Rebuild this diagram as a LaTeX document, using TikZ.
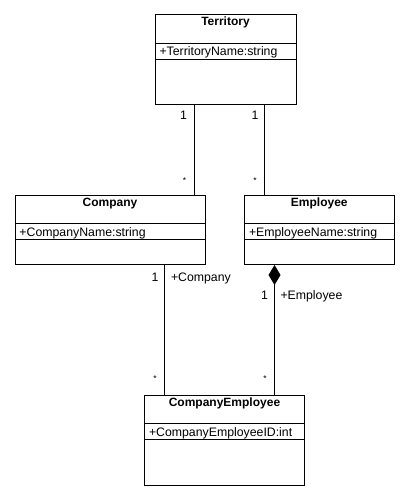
\documentclass[tikz,border=0pt]{standalone}
\usepackage{fontspec}
\setmainfont{Liberation Sans}
\usetikzlibrary{arrows.meta,calc}
\begin{document}
\begin{tikzpicture}[x=1pt,y=-1pt, line width=1pt,
 cls/.style={draw, rectangle, anchor=north west, inner sep=0pt, line width=1pt},
 ttl/.style={anchor=base, inner sep=0pt, font=\fontsize{12}{14}\selectfont\bfseries},
 attr/.style={anchor=base west, inner sep=0pt, font=\fontsize{12.3}{14}\selectfont},
 lbl/.style={anchor=base, inner sep=0pt, font=\fontsize{12.3}{14}\selectfont},
 rolel/.style={anchor=base west, inner sep=0pt, font=\fontsize{12.3}{14}\selectfont},
 mult/.style={anchor=base, inner sep=0pt, font=\fontsize{8.5}{9}\selectfont},
 conn/.style={line width=1pt},
 comp/.style={line width=1pt, {Diamond[length=20pt,width=12pt]}-}]
\useasboundingbox (0,0) rectangle (412,500);

% classes
\node[cls, minimum width=141pt, minimum height=89.5pt] (terr) at (154.5,14.5) {};
\node[cls, minimum width=190pt, minimum height=69.5pt] (comp) at (14.5,194.5) {};
\node[cls, minimum width=149.5pt, minimum height=69.5pt] (emp) at (244,194.5) {};
\node[cls, minimum width=160pt, minimum height=90pt] (ce) at (144,394.5) {};

\foreach \b in {terr,comp,emp,ce}{
  \draw ($(\b.north west)+(0,29)$) -- ($(\b.north east)+(0,29)$);
  \draw ($(\b.north west)+(0,45)$) -- ($(\b.north east)+(0,45)$);
}

\node[ttl] (terrT) at ($(terr.north)+(0,11.5)$) {Territory};
\node[ttl] (compT) at ($(comp.north)+(0,11.5)$) {Company};
\node[ttl] (empT) at ($(emp.north)+(0,11.5)$) {Employee};
\node[ttl] (ceT) at ($(ce.north)+(0,11.5)$) {CompanyEmployee};

\node[attr] (terrA) at ($(terr.north west)+(4.5,41.5)$) {+TerritoryName:string};
\node[attr] (compA) at ($(comp.north west)+(4.5,41.5)$) {+CompanyName:string};
\node[attr] (empA) at ($(emp.north west)+(4.5,41.5)$) {+EmployeeName:string};
\node[attr] (ceA) at ($(ce.north west)+(4.5,41.5)$) {+CompanyEmployeeID:int};

% connectors
\coordinate (t1) at ($(terr.south west)+(40,0)$);
\coordinate (t2) at ($(terr.south west)+(110,0)$);
\coordinate (c1) at ($(comp.south west)+(150,0)$);
\coordinate (e1) at ($(emp.south west)+(30.5,0)$);
\draw[conn] (t1) -- (t1 |- comp.north);
\draw[conn] (t2) -- (t2 |- emp.north);
\draw[conn] (c1) -- (c1 |- ce.north);
\draw[comp] (e1) -- (e1 |- ce.north);

% labels
\node[lbl] (m1) at (183.5,119) {1};
\node[mult] (m2) at (184.5,183) {*};
\node[lbl] (m3) at (255,119) {1};
\node[mult] (m4) at (255,183) {*};
\node[lbl] (m5) at (155,281) {1};
\node[rolel] (r1) at (170.5,281) {+Company};
\node[lbl] (m6) at (264.5,299) {1};
\node[rolel] (r2) at (280,299) {+Employee};
\node[mult] (m7) at (155,381) {*};
\node[mult] (m8) at (265,381) {*};
\end{tikzpicture}
\end{document}
